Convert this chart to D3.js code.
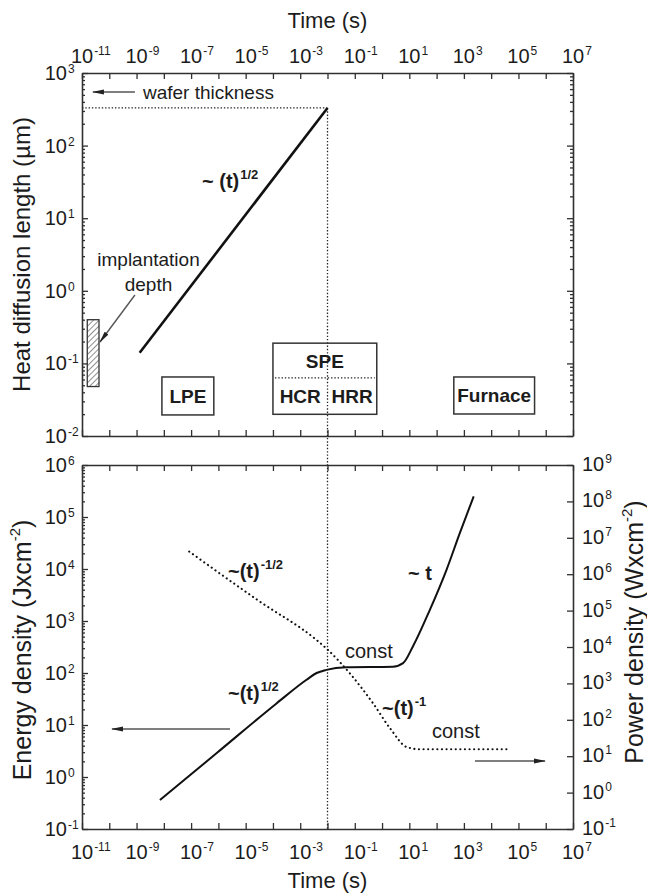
<!DOCTYPE html>
<html>
<head>
<meta charset="utf-8">
<script src="https://cdn.jsdelivr.net/npm/d3@7"></script>
<style>
  body { margin: 0; background: #fff; }
  svg text { font-family: "Liberation Sans", Arial, Helvetica, sans-serif; fill: #1c1c1c; }
  .axis path, .axis line { stroke: #303030; }
  .axis path { stroke-width: 1.6; }
  .axis line { stroke-width: 1.3; }
</style>
</head>
<body>
<svg id="chart" width="647" height="896"></svg>
<script>
// ---- axis extents and tick labels ----
const timeDomain = [1e-11, 1e7];
const timeTickExponents = d3.range(-11, 8);                 // a tick at every decade
const timeLabelExponents = [-11, -9, -7, -5, -3, -1, 1, 3, 5, 7];
const heatExponents = [-2, -1, 0, 1, 2, 3];
const energyExponents = [-1, 0, 1, 2, 3, 4, 5, 6];
const powerExponents = [-1, 0, 1, 2, 3, 4, 5, 6, 7, 8, 9];

// ---- heat diffusion length (µm) ~ t^1/2 ----
const diffusionTime = [1.3e-9, 1e-2];
const diffusionLength = [0.14, 330];
const waferThickness = 330;          // µm
const waferTime = 1e-2;              // s, where diffusion length reaches the wafer thickness
const implantTime = [1.56e-11, 4.2e-11];
const implantDepth = [0.048, 0.40];

// process windows (time range in s, diffusion-length range in µm)
const processBoxes = [
  { name: "LPE",     t: [8.5e-9, 6.8e-7], L: [0.0195, 0.065] },
  { name: "SPE",     t: [1.0e-4, 0.64],   L: [0.0199, 0.19], split: 0.063 },
  { name: "Furnace", t: [427, 3.9e5],     L: [0.0201, 0.065] }
];

// ---- energy density (J cm^-2) vs time ----
const energyTime  = [7.2e-9, 8.5e-7, 1.35e-4, 1.7e-3, 4.0e-3, 9.1e-3, 4.9e-2, 2.5, 5.9, 13.5, 56, 229, 708, 2290];
const energyValue = [0.36, 2.86, 26, 74, 100, 115, 129, 132, 155, 324, 1620, 9550, 4.9e4, 2.5e5];

// ---- power density (W cm^-2) vs time ----
const powerTime  = [8.5e-8, 3.2e-5, 4.0e-3, 9.1e-3, 0.074, 0.47, 2.2, 7.8, 24, 4.1e4];
const powerValue = [4.2e6, 1.8e5, 1.55e4, 9.1e3, 1.7e3, 282, 52, 18, 15.5, 15.5];

// ---- layout ----
const W = 647, H = 896;
const left = 82, right = 573;
const topPanel = { y0: 73, y1: 436 };
const botPanel = { y0: 465, y1: 829 };

const svg = d3.select("#chart");

const x = d3.scaleLog().domain(timeDomain).range([left, right]);
const yHeat = d3.scaleLog().domain([1e-2, 1e3]).range([topPanel.y1, topPanel.y0]);
const yEnergy = d3.scaleLog().domain([1e-1, 1e6]).range([botPanel.y1, botPanel.y0]);
const yPower = d3.scaleLog().domain([1e-1, 1e9]).range([botPanel.y1, botPanel.y0]);

const pow10 = e => Math.pow(10, e);
const minorTicks = exps => {
  const out = [];
  exps.slice(0, -1).forEach(e => { for (let m = 2; m <= 9; m++) out.push(m * pow10(e)); });
  return out;
};

// defs: hatch pattern and arrow heads
const defs = svg.append("defs");
defs.append("pattern")
  .attr("id", "hatch").attr("patternUnits", "userSpaceOnUse")
  .attr("width", 4).attr("height", 4).attr("patternTransform", "rotate(45)")
  .append("line").attr("x1", 0).attr("y1", 0).attr("x2", 0).attr("y2", 4)
  .attr("stroke", "#333").attr("stroke-width", 1.1);
defs.append("marker")
  .attr("id", "arrow").attr("markerUnits", "userSpaceOnUse")
  .attr("viewBox", "0 0 12 6").attr("markerWidth", 12).attr("markerHeight", 6)
  .attr("refX", 11).attr("refY", 3).attr("orient", "auto")
  .append("path").attr("d", "M0,0.6 L12,3 L0,5.4 Z").attr("fill", "#222");

// measure the width of "10" in tick font
const TICK_FS = 20, SUP_FS = 12;
const probe = svg.append("text").attr("font-size", TICK_FS).text("10");
const tenW = probe.node().getComputedTextLength();
probe.remove();

function powerLabel(g, px, py, exp, raise = 8) {
  const t = g.append("text").attr("x", px).attr("y", py).attr("font-size", TICK_FS);
  t.append("tspan").text("10");
  t.append("tspan").attr("font-size", SUP_FS).attr("dy", -raise).attr("dx", 1).text(exp);
  return t;
}

// ---- axes ----
function xAxes(panel, labelsOn) {
  const ticks = timeTickExponents.map(pow10);
  svg.append("g").attr("class", "axis").attr("transform", `translate(0,${panel.y1})`)
    .call(d3.axisBottom(x).tickValues(ticks).tickSize(-6).tickSizeOuter(0).tickFormat(""));
  svg.append("g").attr("class", "axis").attr("transform", `translate(0,${panel.y0})`)
    .call(d3.axisTop(x).tickValues(ticks).tickSize(-6).tickSizeOuter(0).tickFormat(""));
  const g = svg.append("g");
  if (labelsOn === "top") {
    timeLabelExponents.forEach(e => powerLabel(g, x(pow10(e)) - tenW / 2, panel.y0 - 10, e));
  } else if (labelsOn === "bottom") {
    timeLabelExponents.forEach(e => powerLabel(g, x(pow10(e)) - tenW / 2, panel.y1 + 30, e));
  }
}

function yAxisLeft(scale, exps, withMinor) {
  svg.append("g").attr("class", "axis").attr("transform", `translate(${left},0)`)
    .call(d3.axisLeft(scale).tickValues(exps.map(pow10)).tickSize(-6).tickSizeOuter(0).tickFormat(""));
  if (withMinor) {
    svg.append("g").attr("class", "axis minor").attr("transform", `translate(${left},0)`)
      .call(d3.axisLeft(scale).tickValues(minorTicks(exps)).tickSize(-3).tickSizeOuter(0).tickFormat(""))
      .select(".domain").remove();
  }
  const g = svg.append("g");
  exps.forEach(e => powerLabel(g, left - 15 - tenW, scale(pow10(e)) + 7, e, 7));
}

function yAxisRight(scale, exps, withMinor, labelsOn) {
  svg.append("g").attr("class", "axis").attr("transform", `translate(${right},0)`)
    .call(d3.axisRight(scale).tickValues(exps.map(pow10)).tickSize(-6).tickSizeOuter(0).tickFormat(""));
  if (withMinor) {
    svg.append("g").attr("class", "axis minor").attr("transform", `translate(${right},0)`)
      .call(d3.axisRight(scale).tickValues(minorTicks(exps)).tickSize(-3).tickSizeOuter(0).tickFormat(""))
      .select(".domain").remove();
  }
  if (labelsOn) {
    const g = svg.append("g");
    exps.forEach(e => powerLabel(g, right + 9, scale(pow10(e)) + 6, e));
  }
}

// top panel frame
xAxes(topPanel, "top");
yAxisLeft(yHeat, heatExponents, true);
yAxisRight(yHeat, heatExponents, true, false);
// bottom panel frame
xAxes(botPanel, "bottom");
yAxisLeft(yEnergy, energyExponents, true);
yAxisRight(yPower, powerExponents, false, true);

// ---- axis titles ----
function titleWithSup(g, base, sup, tail) {
  g.append("tspan").text(base);
  g.append("tspan").attr("font-size", 15).attr("dy", -11).text(sup);
  g.append("tspan").attr("dy", 11).text(tail);
}
svg.append("text").attr("x", (left + right) / 2).attr("y", 28)
  .attr("text-anchor", "middle").attr("font-size", 22).text("Time (s)");
svg.append("text").attr("x", (left + right) / 2).attr("y", 888)
  .attr("text-anchor", "middle").attr("font-size", 22).text("Time (s)");
svg.append("text")
  .attr("transform", `translate(30,${(topPanel.y0 + topPanel.y1) / 2}) rotate(-90)`)
  .attr("text-anchor", "middle").attr("font-size", 24).text("Heat diffusion length (µm)");
titleWithSup(svg.append("text")
  .attr("transform", `translate(31,${(botPanel.y0 + botPanel.y1) / 2 + 3}) rotate(-90)`)
  .attr("text-anchor", "middle").attr("font-size", 25), "Energy density (Jxcm", "-2", ")");
titleWithSup(svg.append("text")
  .attr("transform", `translate(643,${(botPanel.y0 + botPanel.y1) / 2 - 15}) rotate(-90)`)
  .attr("text-anchor", "middle").attr("font-size", 25), "Power density (Wxcm", "-2", ")");

// ---- top panel content ----
const dotStyle = sel => sel.attr("stroke", "#222").attr("stroke-width", 1.3)
  .attr("stroke-dasharray", "1.4,1.9").attr("fill", "none");

// wafer thickness level and the time it is reached
svg.append("line")
  .attr("x1", x(timeDomain[0])).attr("x2", x(waferTime))
  .attr("y1", yHeat(waferThickness)).attr("y2", yHeat(waferThickness)).call(dotStyle);
svg.append("line")
  .attr("x1", x(waferTime)).attr("x2", x(waferTime))
  .attr("y1", yHeat(waferThickness)).attr("y2", yEnergy(1e-1)).call(dotStyle);

// diffusion length line
svg.append("path")
  .datum(diffusionTime.map((t, i) => ({ t, v: diffusionLength[i] })))
  .attr("d", d3.line().x(d => x(d.t)).y(d => yHeat(d.v)))
  .attr("fill", "none").attr("stroke", "#111").attr("stroke-width", 2.6);

// implantation depth range
svg.append("rect")
  .attr("x", x(implantTime[0])).attr("width", x(implantTime[1]) - x(implantTime[0]))
  .attr("y", yHeat(implantDepth[1])).attr("height", yHeat(implantDepth[0]) - yHeat(implantDepth[1]))
  .attr("fill", "url(#hatch)").attr("stroke", "#333").attr("stroke-width", 1.3);

// process windows
processBoxes.forEach(b => {
  const x0 = x(b.t[0]), x1 = x(b.t[1]), y0 = yHeat(b.L[1]), y1 = yHeat(b.L[0]);
  svg.append("rect").attr("x", x0).attr("y", y0).attr("width", x1 - x0).attr("height", y1 - y0)
    .attr("fill", "none").attr("stroke", "#333").attr("stroke-width", 1.5);
  if (b.split) {
    const ys = yHeat(b.split);
    svg.append("line").attr("x1", x0 + 2).attr("x2", x1 - 2).attr("y1", ys).attr("y2", ys).call(dotStyle);
    svg.append("text").attr("x", (x0 + x1) / 2).attr("y", (y0 + ys) / 2 + 7)
      .attr("text-anchor", "middle").attr("font-size", 19).attr("font-weight", "bold").text(b.name);
    const xm = x(waferTime);
    svg.append("text").attr("x", (x0 + xm) / 2).attr("y", (ys + y1) / 2 + 7)
      .attr("text-anchor", "middle").attr("font-size", 19).attr("font-weight", "bold").text("HCR");
    svg.append("text").attr("x", (xm + x1) / 2).attr("y", (ys + y1) / 2 + 7)
      .attr("text-anchor", "middle").attr("font-size", 19).attr("font-weight", "bold").text("HRR");
  } else {
    svg.append("text").attr("x", (x0 + x1) / 2).attr("y", (y0 + y1) / 2 + 7)
      .attr("text-anchor", "middle").attr("font-size", 19).attr("font-weight", "bold").text(b.name);
  }
});

// annotation helpers (positions given as log10 of the axis values)
function note(yScale, te, ve, text, opts = {}) {
  const t = svg.append("text").attr("x", x(pow10(te))).attr("y", yScale(pow10(ve)))
    .attr("font-size", opts.size || 20)
    .attr("font-weight", opts.bold ? "bold" : "normal")
    .attr("text-anchor", opts.anchor || "start");
  t.append("tspan").text(text);
  if (opts.sup) t.append("tspan").attr("font-size", 13).attr("dy", -9).attr("dx", 1).text(opts.sup);
  return t;
}
function arrow(yScale, te0, te1, ve0, ve1) {
  svg.append("line")
    .attr("x1", x(pow10(te0))).attr("y1", yScale(pow10(ve0)))
    .attr("x2", x(pow10(te1))).attr("y2", yScale(pow10(ve1)))
    .attr("stroke", "#555").attr("stroke-width", 1.4).attr("marker-end", "url(#arrow)");
}

note(yHeat, -8.764, 2.642, "wafer thickness", { size: 19 });
arrow(yHeat, -9.06, -10.6, 2.738, 2.738);
note(yHeat, -6.60, 1.416, "~ (t)", { bold: true, sup: "1/2" });
note(yHeat, -8.562, 0.342, "implantation", { size: 19, anchor: "middle" });
note(yHeat, -8.562, -0.003, "depth", { size: 19, anchor: "middle" });
arrow(yHeat, -9.06, -10.34, -0.058, -0.705);

// ---- bottom panel content ----
svg.append("path")
  .datum(energyTime.map((t, i) => ({ t, v: energyValue[i] })))
  .attr("d", d3.line().x(d => x(d.t)).y(d => yEnergy(d.v)).curve(d3.curveMonotoneX))
  .attr("fill", "none").attr("stroke", "#111").attr("stroke-width", 2);

svg.append("path")
  .datum(powerTime.map((t, i) => ({ t, v: powerValue[i] })))
  .attr("d", d3.line().x(d => x(d.t)).y(d => yPower(d.v)).curve(d3.curveMonotoneX))
  .attr("fill", "none").attr("stroke", "#111").attr("stroke-width", 2.1)
  .attr("stroke-linecap", "round").attr("stroke-dasharray", "0.1,4.5");

note(yEnergy, -5.648, 3.827, "~(t)", { bold: true, sup: "-1/2" });
note(yEnergy, -1.358, 2.288, "const");
note(yEnergy, 0.951, 3.788, "~ t", { bold: true });
note(yEnergy, -5.648, 1.481, "~(t)", { bold: true, sup: "1/2" });
note(yEnergy, 0.0, 1.192, "~(t)", { bold: true, sup: "-1" });
note(yEnergy, 1.831, 0.75, "const");
arrow(yEnergy, -5.574, -9.90, 0.923, 0.923);
arrow(yEnergy, 3.407, 5.973, 0.308, 0.308);
</script>
</body>
</html>
